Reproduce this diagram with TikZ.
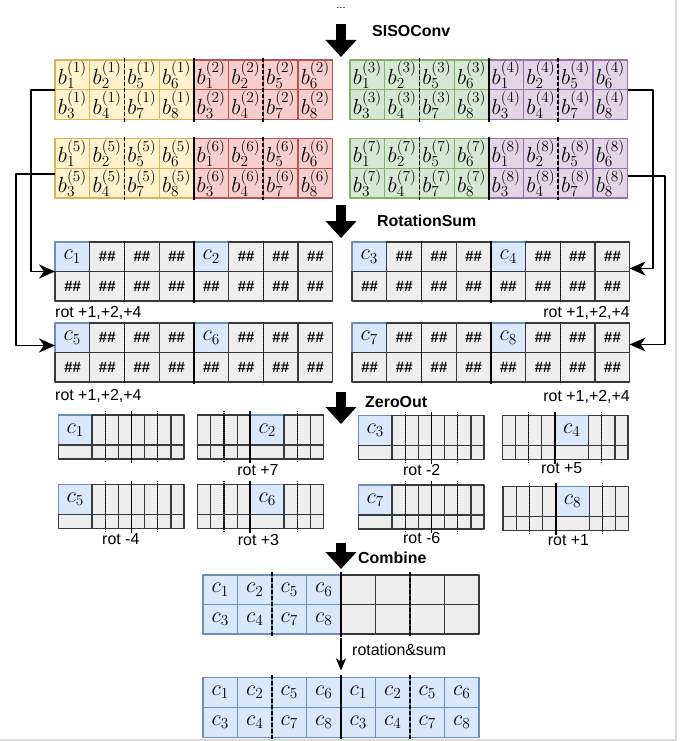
\documentclass[tikz,border=0pt]{standalone}
\usepackage{fix-cm}
\usepackage{fontspec}
\newfontfamily\hv{Liberation Sans}
\usetikzlibrary{arrows.meta,positioning}

\definecolor{yfill}{HTML}{FFF2CC}\definecolor{yline}{HTML}{D6B656}
\definecolor{rfill}{HTML}{F8CECC}\definecolor{rline}{HTML}{B85450}
\definecolor{gfill}{HTML}{D5E8D4}\definecolor{gline}{HTML}{82B366}
\definecolor{pfill}{HTML}{E1D5E7}\definecolor{pline}{HTML}{9673A6}
\definecolor{bfill}{HTML}{DAE8FC}\definecolor{bline}{HTML}{6C8EBF}
\definecolor{efill}{HTML}{EEEEEE}\definecolor{eline}{HTML}{36393D}

\tikzset{
  cell/.style={anchor=north west, minimum width=34.7bp, minimum height=29.75bp,
    inner sep=0pt, outer sep=0pt, line width=1.2bp, font=\fontsize{22}{26}\selectfont},
  ycell/.style={cell, fill=yfill, draw=yline},
  rcell/.style={cell, fill=rfill, draw=rline},
  gcell/.style={cell, fill=gfill, draw=gline},
  pcell/.style={cell, fill=pfill, draw=pline},
  bcell/.style={cell, fill=bfill, draw=bline},
  ecell/.style={cell, fill=efill, draw=eline},
  hh/.style={font=\hv\bfseries\itshape\fontsize{15}{17}\selectfont},
  zbig/.style={minimum width=33.7bp},
  znarrow/.style={minimum width=13.15bp},
  ztop/.style={minimum height=30bp},
  zbot/.style={minimum height=14bp},
  halfline/.style={line width=1.8bp},
  quartline/.style={line width=1.6bp, dash pattern=on 4bp off 2bp},
  dotline/.style={line width=1.3bp, dash pattern=on 1bp off 1bp},
  stage/.style={font=\hv\bfseries\fontsize{16}{19}\selectfont, inner sep=0pt, anchor=base west},
  lbl/.style={font=\hv\fontsize{16}{19}\selectfont, inner sep=0pt},
  bigarrow/.style={line width=10bp, -{Triangle[length=17bp,width=30bp]}},
  link/.style={line width=1.6bp, -{Stealth[length=16bp,width=14bp,inset=5bp]}},
  thinlink/.style={line width=1.2bp, -{Stealth[length=12bp,width=10bp,inset=3bp]}},
}

% half of a b-grid: name, x, y, cell style, channel
\newcommand{\bhalf}[5]{%
  \foreach \ra/\rb [count=\c from 0] in {1/3,2/4,5/7,6/8}{
    \node[#4] (#1-1-\c) at (#2+\c*34.7,#3) {$b_{\ra}^{(#5)}$};
    \node[#4] (#1-2-\c) at (#2+\c*34.7,#3+29.75) {$b_{\rb}^{(#5)}$};
  }
  \draw[quartline] ([yshift=2bp]#1-1-2.north west) -- ([yshift=-2bp]#1-2-2.south west);
}

% rotation-sum grid: name, x, y, first c, second c
\newcommand{\rgrid}[5]{%
  \node[bcell, minimum height=29.5bp] (#1-1-0) at (#2,#3) {$c_{#4}$};
  \foreach \c in {1,2,3}
    \node[ecell, hh, minimum height=29.5bp] (#1-1-\c) at (#2+\c*34.7,#3) {\#\#};
  \node[bcell, minimum height=29.5bp] (#1-1-4) at (#2+4*34.7,#3) {$c_{#5}$};
  \foreach \c in {5,6,7}
    \node[ecell, hh, minimum height=29.5bp] (#1-1-\c) at (#2+\c*34.7,#3) {\#\#};
  \foreach \c in {0,...,7}
    \node[ecell, hh, minimum height=29.5bp] (#1-2-\c) at (#2+\c*34.7,#3+29.5) {\#\#};
  \draw[dotline] ([yshift=1.5bp]#1-1-2.north west) -- ([yshift=-1.5bp]#1-2-2.south west);
  \draw[halfline] ([yshift=1.5bp]#1-1-4.north west) -- ([yshift=-1.5bp]#1-2-4.south west);
  \draw[dotline] ([yshift=1.5bp]#1-1-6.north west) -- ([yshift=-1.5bp]#1-2-6.south west);
}

% zero-out grid, c first: name, x, y, c
\newcommand{\zgridA}[4]{%
  \node[bcell, zbig, ztop] (#1-1-0) at (#2,#3) {$c_{#4}$};
  \node[ecell, zbig, zbot] (#1-2-0) at (#2,#3+30) {};
  \foreach \c in {1,...,7}{
    \node[ecell, znarrow, ztop] (#1-1-\c) at (#2+20.55+\c*13.15,#3) {};
    \node[ecell, znarrow, zbot] (#1-2-\c) at (#2+20.55+\c*13.15,#3+30) {};
  }
  \draw[dotline] ([yshift=4bp]#1-1-2.north west) -- ([yshift=-4bp]#1-2-2.south west);
  \draw[halfline] ([yshift=4bp]#1-1-4.north west) -- ([yshift=-4bp]#1-2-4.south west);
  \draw[dotline] ([yshift=4bp]#1-1-6.north west) -- ([yshift=-4bp]#1-2-6.south west);
}

% zero-out grid, c in the middle: name, x, y, c
\newcommand{\zgridB}[4]{%
  \foreach \c in {0,...,3}{
    \node[ecell, znarrow, ztop] (#1-1-\c) at (#2+\c*13.15,#3) {};
    \node[ecell, znarrow, zbot] (#1-2-\c) at (#2+\c*13.15,#3+30) {};
  }
  \node[bcell, zbig, ztop] (#1-1-4) at (#2+52.6,#3) {$c_{#4}$};
  \node[ecell, zbig, zbot] (#1-2-4) at (#2+52.6,#3+30) {};
  \foreach \c in {5,6,7}{
    \node[ecell, znarrow, ztop] (#1-1-\c) at (#2+20.55+\c*13.15,#3) {};
    \node[ecell, znarrow, zbot] (#1-2-\c) at (#2+20.55+\c*13.15,#3+30) {};
  }
  \draw[dotline] ([yshift=4bp]#1-1-2.north west) -- ([yshift=-4bp]#1-2-2.south west);
  \draw[halfline] ([yshift=4bp]#1-1-4.north west) -- ([yshift=-4bp]#1-2-4.south west);
  \draw[dotline] ([yshift=4bp]#1-1-6.north west) -- ([yshift=-4bp]#1-2-6.south west);
}

\begin{document}
\begin{tikzpicture}[x=1bp,y=-1bp,line join=bevel]
  \useasboundingbox (0,0) rectangle (680,741);
%%
  % Node: dots
  \node[lbl, font=\hv\fontsize{11}{13}\selectfont] (dots) at (341,8) {...};
  % Edge: dots -> SISOConv
  \coordinate (a1 top) at (341,24);
  \coordinate (a1 tip) at (341,57);
  \draw[bigarrow] (a1 top) -- (a1 tip);
  \node[stage] (siso) at (372,37) {SISOConv};
  % Node: b-grids, channels 1..8
  \bhalf{Y1}{55}{60}{ycell}{1}
  \bhalf{R2}{193.8}{60}{rcell}{2}
  \draw[halfline] ([yshift=2bp]R2-1-0.north west) -- ([yshift=-2bp]R2-2-0.south west);
  \bhalf{G3}{350}{60}{gcell}{3}
  \bhalf{P4}{488.8}{60}{pcell}{4}
  \draw[halfline] ([yshift=2bp]P4-1-0.north west) -- ([yshift=-2bp]P4-2-0.south west);
  \bhalf{Y5}{55}{138.5}{ycell}{5}
  \bhalf{R6}{193.8}{138.5}{rcell}{6}
  \draw[halfline] ([yshift=2bp]R6-1-0.north west) -- ([yshift=-2bp]R6-2-0.south west);
  \bhalf{G7}{350}{138.5}{gcell}{7}
  \bhalf{P8}{488.8}{138.5}{pcell}{8}
  \draw[halfline] ([yshift=2bp]P8-1-0.north west) -- ([yshift=-2bp]P8-2-0.south west);
  % Edge: SISOConv -> RotationSum
  \coordinate (a2 top) at (341,205);
  \coordinate (a2 tip) at (341,238);
  \draw[bigarrow] (a2 top) -- (a2 tip);
  \node[stage] (rotsum) at (377,226) {RotationSum};
  % Node: rotation-sum grids
  \rgrid{RS1}{55}{242}{1}{2}
  \rgrid{RS3}{352}{242}{3}{4}
  \rgrid{RS5}{55}{323}{5}{6}
  \rgrid{RS7}{352}{323}{7}{8}
  \node[lbl, anchor=base west] (rot1) at (55,317) {rot +1,+2,+4};
  \node[lbl, anchor=base east] (rot3) at (630,317) {rot +1,+2,+4};
  \node[lbl, anchor=base west] (rot5) at (55,400) {rot +1,+2,+4};
  \node[lbl, anchor=base east] (rot7) at (630,401) {rot +1,+2,+4};
  % Edge: Y1 -> RS1
  \draw[link] (Y1-2-0.north west) -- ++(-24,0) |- (RS1-2-0.north west);
  % Edge: Y5 -> RS5
  \draw[link] ([yshift=-6bp]Y5-2-0.north west) -- ++(-39,0) |- ([yshift=7bp]RS5-2-0.north west);
  % Edge: P4 -> RS3
  \draw[link] (P4-2-3.north east) -- ++(25.4,0) |- ([yshift=3bp]RS3-2-7.north east);
  % Edge: P8 -> RS7
  \draw[link] ([yshift=-8bp]P8-2-3.north east) -- ++(37.4,0) |- ([yshift=8bp]RS7-2-7.north east);
  % Edge: RotationSum -> ZeroOut
  \coordinate (a3 top) at (341,392);
  \coordinate (a3 tip) at (341,424);
  \draw[bigarrow] (a3 top) -- (a3 tip);
  \node[stage] (zero) at (365,407) {ZeroOut};
  % Node: zero-out grids
  \zgridA{Z1}{58.3}{415}{1}
  \zgridB{Z2}{197.7}{415}{2}
  \zgridA{Z3}{358.3}{415.5}{3}
  \zgridB{Z4}{502.3}{415.5}{4}
  \zgridA{Z5}{58.3}{484.5}{5}
  \zgridB{Z6}{197.7}{484.5}{6}
  \zgridA{Z7}{358.3}{485}{7}
  \zgridB{Z8}{503}{486.5}{8}
  \node[lbl, anchor=base] (z2 rot) at (258,475) {rot +7};
  \node[lbl, anchor=base] (z3 rot) at (421.7,475) {rot -2};
  \node[lbl, anchor=base] (z4 rot) at (561.7,473) {rot +5};
  \node[lbl, anchor=base] (z5 rot) at (120.8,544) {rot -4};
  \node[lbl, anchor=base] (z6 rot) at (258.5,545.5) {rot +3};
  \node[lbl, anchor=base] (z7 rot) at (421.7,543) {rot -6};
  \node[lbl, anchor=base] (z8 rot) at (568.5,545.5) {rot +1};
  % Edge: ZeroOut -> Combine
  \coordinate (a4 top) at (341,543);
  \coordinate (a4 tip) at (341,569);
  \draw[bigarrow] (a4 top) -- (a4 tip);
  \node[stage] (comb) at (358,563) {Combine};
  % Node: combined grid
  \foreach \ra/\rb [count=\c from 0] in {1/3,2/4,5/7,6/8}{
    \node[bcell, minimum width=34.5bp, minimum height=29.5bp] (CB-1-\c) at (203+\c*34.5,575) {$c_{\ra}$};
    \node[bcell, minimum width=34.5bp, minimum height=29.5bp] (CB-2-\c) at (203+\c*34.5,604.5) {$c_{\rb}$};
  }
  \foreach \c in {4,...,7}{
    \node[ecell, minimum width=34.5bp, minimum height=29.5bp] (CB-1-\c) at (203+\c*34.5,575) {};
    \node[ecell, minimum width=34.5bp, minimum height=29.5bp] (CB-2-\c) at (203+\c*34.5,604.5) {};
  }
  \draw[quartline] ([yshift=3bp]CB-1-2.north west) -- ([yshift=-3bp]CB-2-2.south west);
  \draw[halfline] ([yshift=3bp]CB-1-4.north west) -- ([yshift=-3bp]CB-2-4.south west);
  \draw[quartline] ([yshift=3bp]CB-1-6.north west) -- ([yshift=-3bp]CB-2-6.south west);
  % Node: final grid
  \foreach \ra/\rb [count=\c from 0] in {1/3,2/4,5/7,6/8,1/3,2/4,5/7,6/8}{
    \node[bcell, minimum width=34.5bp, minimum height=30bp] (FN-1-\c) at (203+\c*34.5,677.5) {$c_{\ra}$};
    \node[bcell, minimum width=34.5bp, minimum height=30bp] (FN-2-\c) at (203+\c*34.5,707.5) {$c_{\rb}$};
  }
  \draw[quartline] ([yshift=3bp]FN-1-2.north west) -- ([yshift=-3bp]FN-2-2.south west);
  \draw[halfline] ([yshift=3bp]FN-1-4.north west) -- ([yshift=-3bp]FN-2-4.south west);
  \draw[quartline] ([yshift=3bp]FN-1-6.north west) -- ([yshift=-3bp]FN-2-6.south west);
  % Edge: CB -> FN
  \draw[thinlink] ([yshift=-4bp]CB-2-4.south west) -- ([yshift=7bp]FN-1-4.north west);
  \node[lbl, anchor=base west] (rs) at (352,655) {rotation\&sum};
  % frame
  \draw[line width=2bp, draw=black!15] (675.5,0) -- (675.5,740) -- (0,740);
%
\end{tikzpicture}
\end{document}
